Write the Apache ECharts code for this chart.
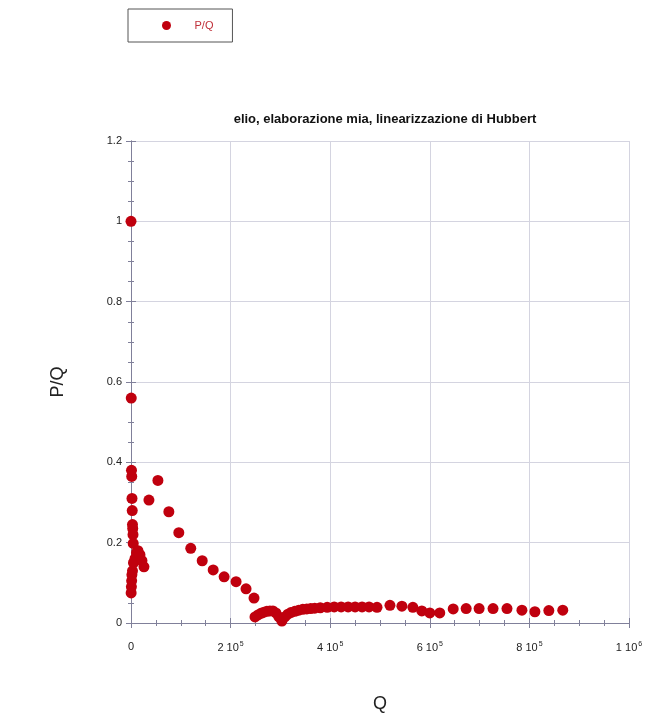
<!DOCTYPE html>
<html>
<head>
<meta charset="utf-8">
<script src="https://cdn.jsdelivr.net/npm/echarts@6/dist/echarts.min.js"></script>
<style>
  html, body { margin: 0; padding: 0; background: #fff; }
  #chart { width: 651px; height: 718px; }
</style>
</head>
<body>
<div id="chart"></div>
<script>
// Q (cumulative) and P/Q values
const qValues = [
  0, 500, 1000, 1500, 2000, 2500, 3000, 3500, 4000, 4500,
  300, 800, 1300, 1800, 3000, 5000, 8000, 11000, 14000, 18000, 22000, 26000,
  36000, 54000, 76000, 96000, 120000, 143000, 165000, 187000, 211000, 231000, 247000,
  249000, 255000, 261000, 267000, 273000, 279000, 285000, 291000, 297000, 303000,
  309000, 315000, 321000, 329000, 337000, 345000, 353000, 361000, 369000, 380000,
  394000, 408000, 422000, 436000, 450000, 464000, 478000, 494000, 520000, 544000,
  566000, 584000, 600000, 620000, 647000, 673000, 699000, 727000, 755000, 785000,
  811000, 839000, 867000
];
const pqValues = [
  1.0, 0.56, 0.38, 0.365, 0.31, 0.28, 0.245, 0.235, 0.22, 0.198,
  0.075, 0.09, 0.105, 0.12, 0.13, 0.15, 0.16, 0.175, 0.18, 0.17, 0.155, 0.14,
  0.306, 0.355, 0.277, 0.225, 0.186, 0.155, 0.132, 0.115, 0.103, 0.085, 0.062,
  0.015, 0.02, 0.024, 0.027, 0.029, 0.03, 0.03, 0.025, 0.015, 0.005,
  0.015, 0.022, 0.026, 0.029, 0.032, 0.034, 0.035, 0.036, 0.037, 0.038,
  0.039, 0.04, 0.04, 0.04, 0.04, 0.04, 0.04, 0.039, 0.044, 0.042,
  0.039, 0.03, 0.025, 0.025, 0.035, 0.036, 0.036, 0.036, 0.036, 0.032,
  0.028, 0.031, 0.032
];
const yTicks = [0, 0.2, 0.4, 0.6, 0.8, 1, 1.2];

const points = qValues.map((q, i) => [q, pqValues[i]]);

const axisColor = '#80809a';
const gridColor = '#d4d4e0';
const fontFam = '"Liberation Sans", Arial, sans-serif';

function xLabel(v) {
  if (v === 0) return '0';
  const exp = Math.floor(Math.log10(v) + 1e-9);
  const mant = Math.round(v / Math.pow(10, exp));
  return '{a|' + mant + ' 10}{s|' + exp + '}';
}

const chart = echarts.init(document.getElementById('chart'));
chart.setOption({
  animation: false,
  textStyle: { fontFamily: fontFam },
  title: {
    text: 'elio, elaborazione mia, linearizzazione di Hubbert',
    left: 380, top: 108, textAlign: 'center',
    textStyle: { fontSize: 13, fontWeight: 'bold', color: '#111', fontFamily: fontFam }
  },
  legend: {
    left: 128, top: 9,
    orient: 'horizontal',
    padding: [11, 19, 11, 34],
    borderColor: '#555', borderWidth: 1,
    itemWidth: 46, itemHeight: 9,
    icon: 'circle',
    textStyle: { fontSize: 11, color: '#c0303a', fontFamily: fontFam },
    data: ['P/Q']
  },
  grid: { left: 131, right: 22, top: 141, bottom: 87, containLabel: false },
  xAxis: [{
    type: 'value', min: 0, max: 1000000, interval: 200000,
    name: 'Q', nameLocation: 'middle', nameGap: 72,
    nameTextStyle: { fontSize: 18, color: '#222', fontFamily: fontFam },
    axisLine: { show: true, lineStyle: { color: axisColor } },
    axisTick: { show: true, inside: true, length: 5, lineStyle: { color: axisColor } },
    minorTick: { show: true, splitNumber: 4, length: 3, lineStyle: { color: axisColor } },
    splitLine: { show: true, lineStyle: { color: gridColor } },
    axisLabel: {
      margin: 18, formatter: xLabel, color: '#222', fontSize: 11,
      rich: {
        a: { fontSize: 11, color: '#222', fontFamily: fontFam },
        s: { fontSize: 7, color: '#222', verticalAlign: 'top', padding: [0, 0, 6, 1], fontFamily: fontFam }
      }
    }
  }, {
    type: 'value', position: 'top', min: 0, max: 1000000, interval: 200000,
    axisLine: { show: true, lineStyle: { color: axisColor } },
    axisTick: { show: true, inside: true, length: 5, lineStyle: { color: axisColor } },
    minorTick: { show: true, splitNumber: 4, length: 3, lineStyle: { color: axisColor } },
    splitLine: { show: false },
    axisLabel: { show: false }
  }],
  yAxis: [{
    type: 'value', min: 0, max: 1.2, interval: 0.2,
    name: 'P/Q', nameLocation: 'middle', nameGap: 64, nameRotate: 90,
    nameTextStyle: { fontSize: 18, color: '#222', fontFamily: fontFam },
    axisLine: { show: true, lineStyle: { color: axisColor } },
    axisTick: { show: true, inside: true, length: 5, lineStyle: { color: axisColor } },
    minorTick: { show: true, splitNumber: 4, length: 3, lineStyle: { color: axisColor } },
    splitLine: { show: true, lineStyle: { color: gridColor } },
    axisLabel: {
      margin: 9, color: '#222', fontSize: 11,
      formatter: v => {
        const t = yTicks.find(k => Math.abs(k - v) < 1e-9);
        return t === undefined ? '' : String(t);
      }
    }
  }, {
    type: 'value', position: 'right', min: 0, max: 1.2, interval: 0.2,
    axisLine: { show: true, lineStyle: { color: axisColor } },
    axisTick: { show: true, inside: true, length: 5, lineStyle: { color: axisColor } },
    minorTick: { show: true, splitNumber: 4, length: 3, lineStyle: { color: axisColor } },
    splitLine: { show: false },
    axisLabel: { show: false }
  }],
  series: [{
    name: 'P/Q',
    type: 'scatter',
    xAxisIndex: 0, yAxisIndex: 0,
    symbol: 'circle',
    symbolSize: 11,
    itemStyle: { color: '#c0000e', opacity: 1 },
    data: points
  }]
});
</script>
</body>
</html>
